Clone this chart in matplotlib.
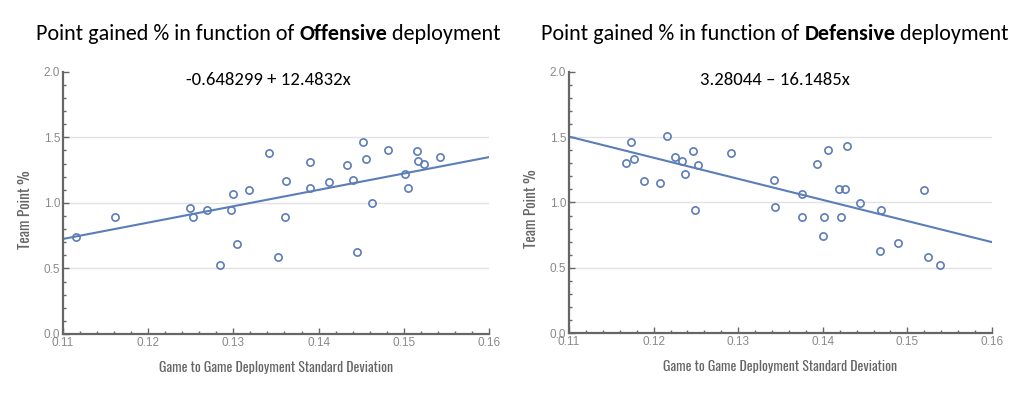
import numpy as np
import matplotlib.pyplot as plt
from matplotlib.ticker import MultipleLocator

# Offensive deployment: std deviation vs team point %
off_x = [0.1342, 0.1390, 0.1362, 0.1390, 0.1412, 0.1433, 0.1441, 0.1452, 0.1456, 0.1482,
         0.1502, 0.1505, 0.1516, 0.1517, 0.1524, 0.1543, 0.1299, 0.1318, 0.1115, 0.1161,
         0.1249, 0.1253, 0.1269, 0.1284, 0.1297, 0.1304, 0.1352, 0.1361, 0.1445, 0.1463]
off_y = [1.379, 1.310, 1.169, 1.110, 1.156, 1.287, 1.174, 1.467, 1.336, 1.405,
         1.223, 1.110, 1.395, 1.318, 1.300, 1.349, 1.070, 1.100, 0.741, 0.891,
         0.964, 0.891, 0.944, 0.525, 0.944, 0.688, 0.586, 0.891, 0.627, 1.000]

# Defensive deployment
def_x = [0.1167, 0.1173, 0.1177, 0.1189, 0.1208, 0.1216, 0.1225, 0.1234, 0.1237, 0.1246,
         0.1253, 0.1291, 0.1342, 0.1376, 0.1393, 0.1406, 0.1429, 0.1419, 0.1426, 0.1520,
         0.1249, 0.1344, 0.1375, 0.1400, 0.1402, 0.1421, 0.1444, 0.1469, 0.1468, 0.1489,
         0.1524, 0.1539]
def_y = [1.306, 1.464, 1.334, 1.166, 1.150, 1.508, 1.345, 1.316, 1.220, 1.394,
         1.285, 1.376, 1.171, 1.068, 1.298, 1.404, 1.435, 1.106, 1.106, 1.096,
         0.942, 0.962, 0.888, 0.741, 0.888, 0.888, 0.995, 0.942, 0.627, 0.688,
         0.586, 0.525]

# fitted lines (intercept, slope) as printed on the chart
off_fit = (-0.648299, 12.4832)
def_fit = (3.28044, -16.1485)

grid_vals = [0.5, 1.0, 1.5]
blue = '#5b7db8'
text_fam = ['Carlito', 'Lato', 'DejaVu Sans']

fig = plt.figure(figsize=(10.24, 3.99), dpi=100)


def make_axes(rect, xs, ys, fit):
    ax = fig.add_axes(rect)
    for g in grid_vals:
        ax.axhline(g, color='#e3e3e3', lw=1, zorder=0)
    xl = np.array([0.11, 0.16])
    ax.plot(xl, fit[0] + fit[1] * xl, color=blue, lw=1.5, zorder=2)
    ax.plot(xs, ys, 'o', mfc='none', mec=blue, mew=1.2, ms=5.2, zorder=3)
    ax.set_xlim(0.11, 0.16)
    ax.set_ylim(0, 2.0)
    ax.xaxis.set_major_locator(MultipleLocator(0.01))
    ax.xaxis.set_minor_locator(MultipleLocator(0.002))
    ax.yaxis.set_major_locator(MultipleLocator(0.5))
    ax.yaxis.set_minor_locator(MultipleLocator(0.1))
    ax.set_xticklabels([f'{v:.2f}' for v in ax.get_xticks()])
    ax.set_yticklabels([f'{v:.1f}' for v in ax.get_yticks()])
    for s in ['top', 'right']:
        ax.spines[s].set_visible(False)
    for s in ['left', 'bottom']:
        ax.spines[s].set_color('#666666')
        ax.spines[s].set_linewidth(1.6)
    ax.tick_params(which='major', direction='in', length=4, width=1, color='#666666',
                   labelcolor='#8a8a8a', labelsize=8.5, pad=2)
    ax.tick_params(which='minor', direction='in', length=2.5, width=1, color='#666666')
    for lab in ax.get_xticklabels() + ax.get_yticklabels():
        lab.set_family(['Liberation Sans', 'DejaVu Sans'])
    lab_fam = ['Oswald', 'Roboto Condensed', 'DejaVu Sans']
    ax.set_xlabel('Game to Game Deployment Standard Deviation', labelpad=9,
                  family=lab_fam, color='#666666', fontsize=10)
    ax.set_ylabel('Team Point %', labelpad=8, family=lab_fam, color='#666666', fontsize=11)
    ax.yaxis.label.set_y(0.475)
    return ax


ax1 = make_axes([0.0615, 0.163, 0.416, 0.657], off_x, off_y, off_fit)
ax2 = make_axes([0.5557, 0.165, 0.413, 0.655], def_x, def_y, def_fit)


def title(x, word):
    font = dict(family=text_fam, fontsize=15.9, color='black')
    yb = 1 - 40 / 399
    t1 = fig.text(x, yb, 'Point gained % in function of ', va='baseline', **font)
    t2 = fig.text(0, yb, word, va='baseline', fontweight='bold', **font)
    t3 = fig.text(0, yb, ' deployment', va='baseline', **font)
    fig.canvas.draw()
    r = fig.canvas.get_renderer()
    t2.set_position((t1.get_window_extent(r).x1 / fig.bbox.width, yb))
    fig.canvas.draw()
    t3.set_position((t2.get_window_extent(r).x1 / fig.bbox.width, yb))


title(36 / 1024, 'Offensive')
title(541 / 1024, 'Defensive')

eq_font = dict(family=text_fam, fontsize=13.5, color='black', ha='center', va='baseline')
fig.text(268 / 1024, 1 - 85 / 399, f'{off_fit[0]:g} + {off_fit[1]:g}x', **eq_font)
fig.text(775 / 1024, 1 - 85 / 399, f'{def_fit[0]:g} \u2013 {-def_fit[1]:g}x', **eq_font)

fig.savefig('out.png', dpi=100)
